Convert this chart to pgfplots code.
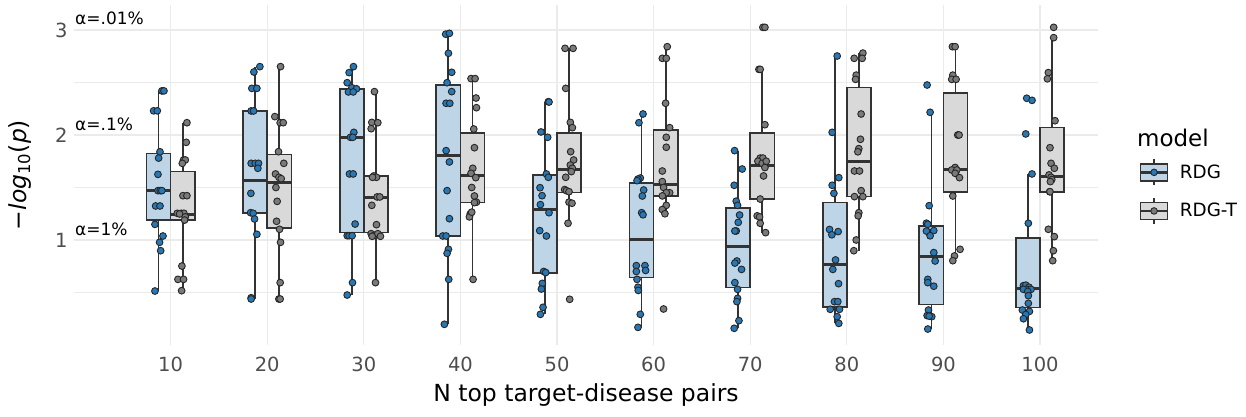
\documentclass[border=0pt]{standalone}
\usepackage{fontspec}
\setmainfont{DejaVu Sans}
\usepackage{pgfplots}
\pgfplotsset{compat=1.18}
\definecolor{rdgfill}{RGB}{189,213,231}
\definecolor{rdgtfill}{RGB}{217,217,217}
\definecolor{rdgpt}{RGB}{40,120,182}
\definecolor{rdgtpt}{RGB}{122,122,122}
\definecolor{boxline}{RGB}{51,51,51}
\definecolor{gridc}{RGB}{235,235,235}
\definecolor{tickc}{RGB}{77,77,77}
% #1 centre, #2 left, #3 right, #4 lower whisker, #5 q1, #6 median, #7 q3, #8 upper whisker, #9 fill
\newcommand{\bx}[9]{%
\addplot[forget plot, draw=boxline, line width=1.7pt] coordinates {(#1,#4) (#1,#5)};
\addplot[forget plot, draw=boxline, line width=1.7pt] coordinates {(#1,#7) (#1,#8)};
\addplot[forget plot, draw=boxline, line width=1.7pt, fill=#9] coordinates {(#2,#5) (#3,#5) (#3,#7) (#2,#7)} --cycle;
\addplot[forget plot, draw=boxline, line width=3pt] coordinates {(#2,#6) (#3,#6)};
}
\begin{document}
\begin{tikzpicture}
\useasboundingbox (-74pt,-72pt) rectangle (1172pt,345pt);
\begin{axis}[
  scale only axis, width=1024pt, height=340pt,
  xmin=0, xmax=106, ymin=0, ymax=3.238,
  clip=false,
  xtick={10,20,...,100},
  ytick={1,2,3}, minor ytick={0.5,1.5,2.5},
  grid=both,
  major grid style={draw=gridc, line width=1.2pt},
  minor grid style={draw=gridc, line width=0.7pt},
  axis line style={draw=none},
  tick style={draw=none},
  major tick length=0pt, minor tick length=0pt,
  /pgf/number format/assume math mode=true,
  ticklabel style={font=\fontsize{19.5}{22}\selectfont, text=tickc},
  xticklabel style={yshift=-8pt},
  yticklabel style={xshift=-3pt},
  xlabel={N top target-disease pairs},
  ylabel={−\textit{log}\textsubscript{10}(\textit{p})},
  label style={font=\fontsize{23.5}{26}\selectfont},
  xlabel style={at={(axis description cs:0.5,-0.147)}, anchor=center},
  ylabel style={at={(axis description cs:-0.0527,0.5)}, anchor=center},
  legend style={at={(axis description cs:1.040,0.451)}, anchor=west, draw=none, fill=none, inner sep=0pt, row sep=11pt, font=\fontsize{18.3}{20}\selectfont, nodes={inner sep=0pt}, /tikz/every odd column/.append style={column sep=11pt}},
  legend cell align=left,
]
% boxes RDG
\bx{8.75}{7.5}{10}{0.514}{1.19}{1.47}{1.825}{2.422}{rdgfill}
\bx{18.75}{17.5}{20}{0.438}{1.254}{1.565}{2.229}{2.651}{rdgfill}
\bx{28.75}{27.5}{30}{0.476}{1.07}{1.978}{2.435}{2.651}{rdgfill}
\bx{38.75}{37.5}{40}{0.197}{1.038}{1.80}{2.473}{2.968}{rdgfill}
\bx{48.75}{47.5}{50}{0.292}{0.689}{1.292}{1.622}{2.314}{rdgfill}
\bx{58.75}{57.5}{60}{0.168}{0.644}{1.0}{1.543}{2.2}{rdgfill}
\bx{68.75}{67.5}{70}{0.159}{0.549}{0.937}{1.302}{1.851}{rdgfill}
\bx{78.75}{77.5}{80}{0.206}{0.365}{0.762}{1.356}{2.752}{rdgfill}
\bx{88.75}{87.5}{90}{0.152}{0.387}{0.841}{1.133}{2.216}{rdgfill}
\bx{98.75}{97.5}{100}{0.143}{0.356}{0.54}{1.016}{1.629}{rdgfill}
% boxes RDG-T
\bx{11.25}{10}{12.5}{0.517}{1.19}{1.244}{1.651}{2.117}{rdgtfill}
\bx{21.25}{20}{22.5}{0.438}{1.117}{1.549}{1.813}{2.651}{rdgtfill}
\bx{31.25}{30}{32.5}{0.594}{1.07}{1.406}{1.61}{2.413}{rdgtfill}
\bx{41.25}{40}{42.5}{0.625}{1.356}{1.61}{2.016}{2.537}{rdgtfill}
\bx{51.25}{50}{52.5}{1.159}{1.451}{1.667}{2.016}{2.825}{rdgtfill}
\bx{61.25}{60}{62.5}{1.254}{1.422}{1.533}{2.048}{2.841}{rdgtfill}
\bx{71.25}{70}{72.5}{1.07}{1.39}{1.714}{2.022}{2.625}{rdgtfill}
\bx{81.25}{80}{82.5}{0.898}{1.413}{1.749}{2.451}{2.778}{rdgtfill}
\bx{91.25}{90}{92.5}{0.803}{1.46}{1.673}{2.397}{2.841}{rdgtfill}
\bx{101.25}{100}{102.5}{0.803}{1.46}{1.603}{2.07}{2.927}{rdgtfill}
% points RDG
\addplot[forget plot, only marks, mark=*, mark size=3.4pt, mark options={fill=rdgpt, draw=black!85, line width=0.9pt}] table {
x y
9.10 2.42
9.31 2.42
8.24 2.23
8.62 2.23
8.90 1.84
8.76 1.78
8.69 1.625
8.69 1.47
8.93 1.47
9.10 1.47
8.45 1.324
8.90 1.324
8.38 1.149
9.21 1.038
8.86 0.978
8.97 0.898
8.38 0.514
19.24 2.651
18.62 2.60
18.41 2.444
18.93 2.444
18.34 2.229
18.59 2.229
18.34 1.73
18.76 1.73
19.10 1.73
19.03 1.683
18.31 1.444
18.28 1.26
18.55 1.254
18.69 1.20
18.93 1.054
18.34 0.45
18.34 0.438
28.93 2.651
28.48 2.594
28.28 2.498
28.76 2.45
29.24 2.44
28.41 2.41
28.90 2.41
28.97 2.025
28.62 1.978
28.86 1.978
28.52 1.629
28.90 1.629
29.10 1.152
28.28 1.041
28.48 1.041
28.79 1.041
28.83 0.594
28.28 0.476
38.48 2.96
38.86 2.968
38.76 2.778
39.10 2.597
38.62 2.498
39.10 2.413
38.52 2.302
38.90 2.302
38.52 1.851
38.86 1.743
38.62 1.47
38.86 1.203
38.17 1.038
38.52 1.038
38.76 0.911
38.62 0.873
38.79 0.625
38.34 0.197
49.10 2.317
49.17 2.314
48.34 2.029
49.03 1.978
48.90 1.629
49.10 1.597
48.24 1.498
48.45 1.422
48.28 1.337
49.17 1.26
48.21 1.089
48.90 1.038
48.62 0.70
48.83 0.69
48.48 0.587
48.38 0.533
48.55 0.359
48.28 0.292
58.90 2.2
58.48 2.117
58.62 1.59
58.38 1.58
58.28 1.565
58.97 1.476
58.83 1.419
58.76 1.26
58.90 1.24
58.21 0.756
59.10 0.756
58.21 0.70
59.17 0.71
58.28 0.625
58.38 0.55
58.41 0.52
58.62 0.292
58.38 0.168
68.38 1.851
69.17 1.676
68.34 1.521
68.55 1.37
68.69 1.33
68.90 1.238
68.76 1.168
68.55 1.086
68.41 1.086
68.62 0.80
68.41 0.78
69.10 0.72
68.41 0.594
68.69 0.53
68.69 0.444
68.62 0.413
68.83 0.232
68.34 0.159
79.00 2.752
78.48 2.025
79.17 1.594
78.48 1.521
78.66 1.444
78.21 1.10
78.45 1.05
79.10 1.08
78.83 0.81
78.55 0.72
79.14 0.584
78.72 0.413
79.07 0.413
78.28 0.34
79.24 0.34
79.00 0.27
79.17 0.206
88.31 2.476
88.62 2.216
88.52 1.327
88.24 1.16
88.38 1.15
88.52 1.07
89.00 1.09
88.24 1.085
88.62 1.04
89.00 0.88
89.14 0.80
88.38 0.625
88.38 0.594
89.00 0.56
88.45 0.333
88.31 0.28
88.79 0.27
88.52 0.275
88.38 0.152
98.62 2.35
99.17 2.33
98.52 2.01
99.17 1.629
98.79 1.159
98.28 0.565
98.52 0.57
98.86 0.55
98.62 0.53
99.07 0.53
98.28 0.53
98.72 0.51
98.79 0.47
98.79 0.397
98.17 0.333
98.90 0.32
98.52 0.29
98.28 0.25
98.90 0.143
};
% points RDG-T
\addplot[forget plot, only marks, mark=*, mark size=3.4pt, mark options={fill=rdgtpt, draw=black!85, line width=0.9pt}] table {
x y
11.69 2.117
11.62 1.93
11.34 1.762
11.52 1.762
11.21 1.73
11.28 1.422
11.69 1.422
10.69 1.254
11.10 1.254
11.38 1.254
10.93 1.248
11.52 1.22
11.45 1.19
11.17 0.752
10.76 0.625
11.34 0.625
11.14 0.517
21.38 2.651
20.79 2.175
21.34 2.117
21.66 2.117
21.17 1.841
21.72 1.73
20.86 1.629
21.21 1.597
21.45 1.584
20.90 1.50
21.03 1.368
20.97 1.178
21.28 1.102
21.38 0.978
21.34 0.594
21.21 0.438
21.34 0.438
31.10 2.413
30.83 2.12
31.45 2.117
30.76 2.06
31.03 1.61
31.31 1.597
30.90 1.597
31.38 1.41
31.66 1.41
30.83 1.33
31.31 1.146
30.76 1.06
31.10 1.045
31.45 1.06
31.72 1.035
30.86 1.035
31.21 0.594
41.10 2.537
41.52 2.537
41.62 2.352
41.66 2.26
41.38 2.057
41.45 1.879
41.28 1.683
41.10 1.635
41.59 1.594
41.17 1.50
41.45 1.419
41.66 1.36
41.45 1.356
41.03 1.25
40.93 1.22
41.17 1.265
41.31 0.625
50.83 2.825
51.66 2.825
50.90 2.444
51.38 2.12
51.59 2.07
51.41 1.841
51.72 1.762
51.38 1.714
51.59 1.683
51.48 1.651
50.90 1.597
50.79 1.48
50.97 1.47
51.24 1.46
51.24 1.36
51.55 1.35
51.14 1.159
51.31 0.435
61.41 2.841
60.90 2.73
61.31 2.73
61.24 2.302
61.66 2.07
61.31 1.978
61.31 1.883
60.90 1.657
60.90 1.556
61.03 1.50
61.66 1.45
61.31 1.45
60.90 1.42
61.31 1.33
60.90 1.29
61.17 1.25
61.03 0.343
71.31 3.025
71.52 3.025
70.90 2.625
71.03 2.625
71.52 2.098
71.03 1.78
71.31 1.78
70.79 1.75
71.24 1.73
71.66 1.75
71.52 1.69
71.38 1.61
71.03 1.39
70.72 1.23
70.97 1.22
71.03 1.159
71.59 1.07
81.66 2.78
80.76 2.73
81.59 2.73
80.97 2.57
80.90 2.53
81.48 2.2
81.41 1.959
81.24 1.87
81.14 1.84
80.79 1.657
81.31 1.657
81.48 1.47
80.79 1.413
81.66 1.413
81.24 1.26
81.17 1.23
80.97 1.0
80.72 0.898
90.93 2.841
91.21 2.841
90.97 2.57
90.86 2.53
91.31 2.53
91.48 2.0
91.62 2.0
91.21 1.69
90.86 1.667
91.38 1.667
91.21 1.635
91.66 1.594
90.97 1.419
91.72 0.911
91.14 0.848
90.97 0.803
101.41 3.025
101.41 2.927
100.86 2.594
100.76 2.535
101.55 2.136
101.03 1.879
101.14 1.73
101.48 1.683
100.93 1.62
101.14 1.597
101.21 1.575
101.07 1.556
101.00 1.46
101.03 1.46
100.86 1.102
101.48 1.032
101.38 0.898
101.31 0.803
};
% annotations
\node[anchor=west, inner sep=0pt, font=\fontsize{17}{19}\selectfont] at (axis cs:0.1,3.11) {α=.01\%};
\node[anchor=west, inner sep=0pt, font=\fontsize{17}{19}\selectfont] at (axis cs:0.1,2.105) {α=.1\%};
\node[anchor=west, inner sep=0pt, font=\fontsize{17}{19}\selectfont] at (axis cs:0.1,1.105) {α=1\%};
% legend
\node[anchor=west, inner sep=0pt, font=\fontsize{23}{26}\selectfont] at (axis description cs:1.038,0.609) {model};
\addlegendimage{legend image code/.code={
  \draw[draw=boxline, line width=1.6pt] (13.5pt,-13pt) -- (13.5pt,13pt);
  \draw[draw=boxline, line width=1.6pt, fill=rdgfill] (0pt,-8.5pt) rectangle (27pt,8.5pt);
  \draw[draw=boxline, line width=2.8pt] (0pt,0pt) -- (27pt,0pt);
  \draw[draw=black!85, line width=0.9pt, fill=rdgpt] (13.5pt,0pt) circle (3.3pt);
}}
\addlegendentry{RDG}
\addlegendimage{legend image code/.code={
  \draw[draw=boxline, line width=1.6pt] (13.5pt,-13pt) -- (13.5pt,13pt);
  \draw[draw=boxline, line width=1.6pt, fill=rdgtfill] (0pt,-8.5pt) rectangle (27pt,8.5pt);
  \draw[draw=boxline, line width=2.8pt] (0pt,0pt) -- (27pt,0pt);
  \draw[draw=black!85, line width=0.9pt, fill=rdgtpt] (13.5pt,0pt) circle (3.3pt);
}}
\addlegendentry{RDG-T}
\end{axis}
\end{tikzpicture}
\end{document}
